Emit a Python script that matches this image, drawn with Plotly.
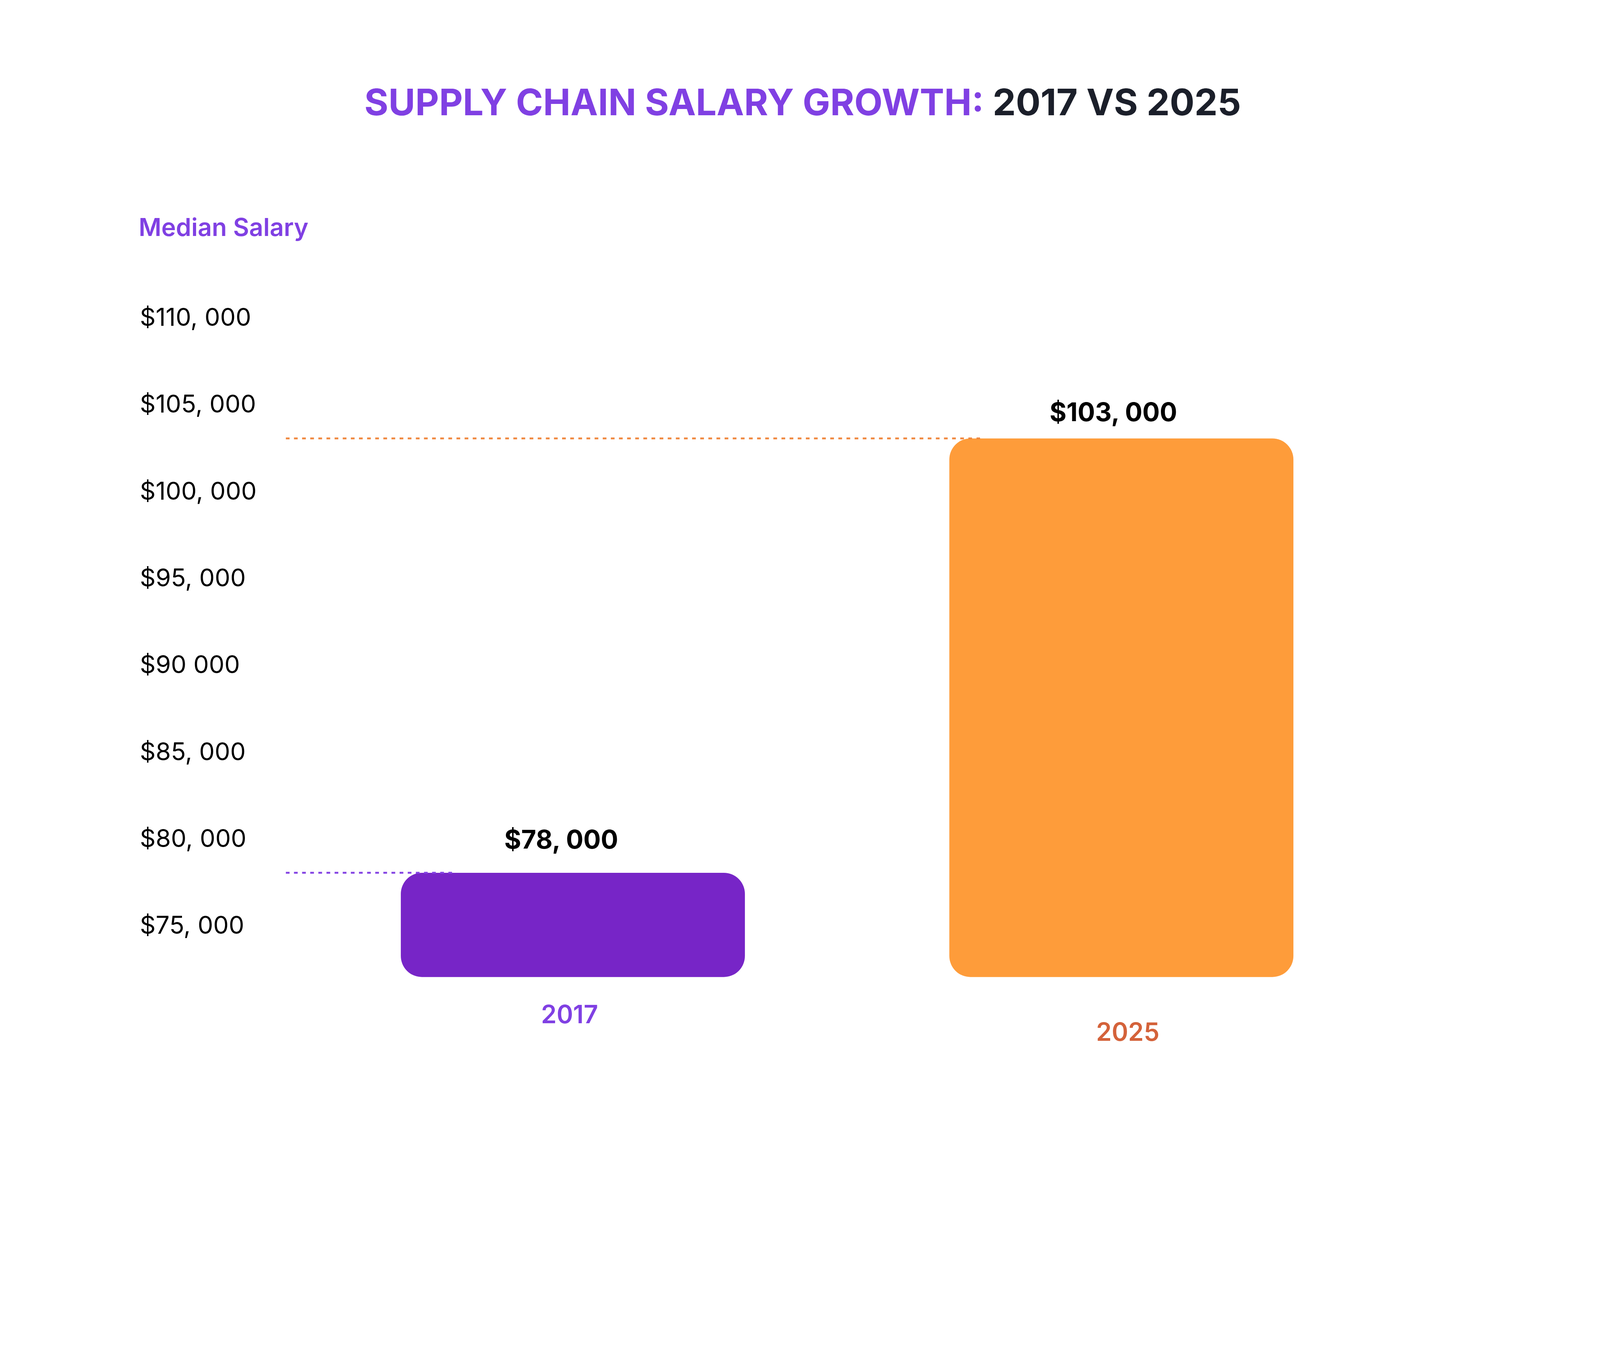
import plotly.graph_objects as go

# data
years = ["2017", "2025"]
salaries = [78000, 103000]
baseline = 72000
value_labels = ["$78, 000", "$103, 000"]
tick_values = [75000, 80000, 85000, 90000, 95000, 100000, 105000, 110000]
tick_labels = ["$75, 000", "$80, 000", "$85, 000", "$90 000",
               "$95, 000", "$100, 000", "$105, 000", "$110, 000"]

# styles
bar_colors = ["#7725C7", "#FE9C3A"]
line_colors = ["#8342E3", "#F0883F"]
year_colors = ["#8040E3", "#D4623A"]
line_ends = [0.2833, 0.6130]     # paper x where each guide line stops
label_shift = [86, 68]
label_xshift = [-30, -20]
year_y = [0.142, 0.1271]
year_xshift = [-9, 16]
FONT = "Inter"

fig = go.Figure()

fig.add_trace(go.Bar(
    x=years,
    y=[v - baseline for v in salaries],
    base=[baseline] * len(salaries),
    width=0.6273,
    marker=dict(color=bar_colors, cornerradius=54, line=dict(width=0)),
    hoverinfo="skip",
    showlegend=False,
))

# dotted guide lines from the axis to the bar tops
for v, c, end in zip(salaries, line_colors, line_ends):
    fig.add_shape(type="line", xref="paper", yref="y",
                  x0=0.1774, x1=end, y0=v, y1=v,
                  line=dict(color=c, width=4.8, dash="9.5px,11.3px"))

# value labels above the bars
for i, (v, txt) in enumerate(zip(salaries, value_labels)):
    fig.add_annotation(x=i, y=v, text=txt, showarrow=False,
                       yanchor="middle", yshift=label_shift[i], xshift=label_xshift[i],
                       font=dict(family=FONT, size=66, color="#000000", weight=700))

# year labels under the bars
for i, yr in enumerate(years):
    fig.add_annotation(x=i, y=year_y[i], yref="paper", text=yr, showarrow=False,
                       yanchor="middle", xshift=year_xshift[i],
                       font=dict(family=FONT, size=64, color=year_colors[i], weight=600))

# left-aligned y tick labels
for tv, tl in zip(tick_values, tick_labels):
    fig.add_annotation(x=0.0854, xref="paper", y=tv, yref="y", text=tl,
                       showarrow=False, xanchor="left", yanchor="middle",
                       font=dict(family=FONT, size=63, color="#000000"))

fig.add_annotation(x=0.0846, xref="paper", y=0.8101, yref="paper",
                   text="Median Salary", showarrow=False,
                   xanchor="left", yanchor="middle",
                   font=dict(family=FONT, size=63, color="#8040E3", weight=600))

fig.update_layout(
    width=4080,
    height=3016,
    margin=dict(l=0, r=0, t=0, b=0),
    paper_bgcolor="white",
    plot_bgcolor="white",
    barmode="overlay",
    title=dict(
        text='<span style="color:#8040E3">SUPPLY CHAIN SALARY GROWTH:</span> 2017 VS 2025',
        x=0.5017, xanchor="center", y=0.9157, yanchor="middle",
        font=dict(family=FONT, size=94, color="#1B1F2A", weight=700),
    ),
    xaxis=dict(type="category", range=[-1.0387, 1.8669],
               showgrid=False, zeroline=False, showticklabels=False,
               showline=False, ticks=""),
    yaxis=dict(range=[60233, 128055],
               showgrid=False, zeroline=False, showticklabels=False,
               showline=False, ticks=""),
)

fig.write_html("out.html")
